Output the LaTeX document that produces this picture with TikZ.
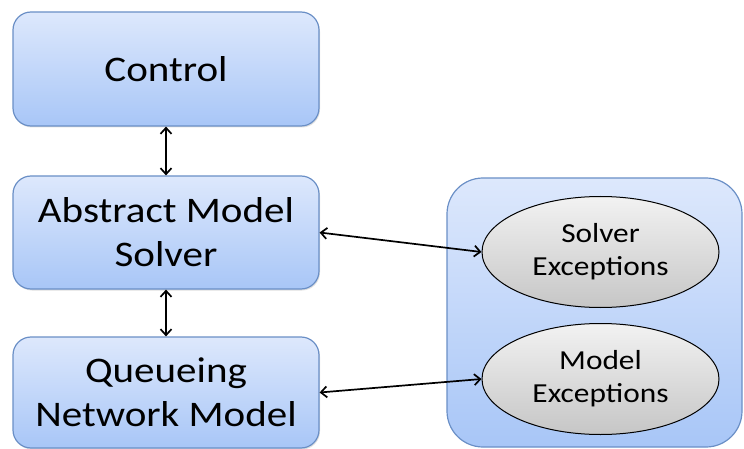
\documentclass[tikz,border=0pt]{standalone}
\usepackage{fontspec}
\newfontfamily\boxfont[FakeStretch=1.14]{Carlito}
\usetikzlibrary{arrows.meta,shapes.geometric,shadows}
\definecolor{boxtop}{HTML}{DDE8FC}
\definecolor{boxbot}{HTML}{A8C6F7}
\definecolor{boxline}{HTML}{6A8FC6}
\definecolor{elltop}{HTML}{F2F2F2}
\definecolor{ellbot}{HTML}{C6C6C6}
\tikzset{
  bluebox/.style={rectangle, rounded corners=18pt, draw=boxline, line width=1.2pt,
    top color=boxtop, bottom color=boxbot, minimum width=306pt, align=center,
    inner sep=0pt,
    drop shadow={opacity=0.25, shadow xshift=1pt, shadow yshift=-1.5pt},
    font={\boxfont\fontsize{36}{44}\selectfont}},
  groupbox/.style={rectangle, rounded corners=36pt, draw=boxline, line width=1.2pt,
    top color=boxtop, bottom color=boxbot, minimum width=295pt, minimum height=269pt,
    inner sep=0pt},
  exc/.style={ellipse, draw=black, line width=1pt, top color=elltop, bottom color=ellbot,
    minimum width=237pt, minimum height=111pt, inner sep=0pt, align=center,
    font={\boxfont\fontsize{27.5}{33}\selectfont}},
  link/.style={draw=black, line width=1.7pt, {Straight Barb[length=6pt,width=11pt]}-{Straight Barb[length=6pt,width=11pt]}}
}
\begin{document}
\begin{tikzpicture}[x=1pt,y=-1pt]
\useasboundingbox (0,0) rectangle (744,449);
\begin{scope}
\clip (0,0) rectangle (744,449);
\node[groupbox] (grp) at (594.5,312.5) {};
\node[bluebox, minimum height=114pt] (ctrl) at (166,69) {Control};
\node[bluebox, minimum height=113pt] (abs) at (166,232.5) {Abstract Model\\Solver};
\node[bluebox, minimum height=111pt] (qnm) at (166,392.5) {Queueing\\Network Model};
\node[exc] (solv) at (600.5,252) {Solver\\Exceptions};
\node[exc] (mexc) at (600.5,379) {Model\\Exceptions};
\end{scope}
\draw[link] (ctrl.south) -- (abs.north);
\draw[link] (abs.south) -- (qnm.north);
\draw[link] (abs.east) -- (solv.west);
\draw[link] (qnm.east) -- (mexc.west);
\end{tikzpicture}
\end{document}
